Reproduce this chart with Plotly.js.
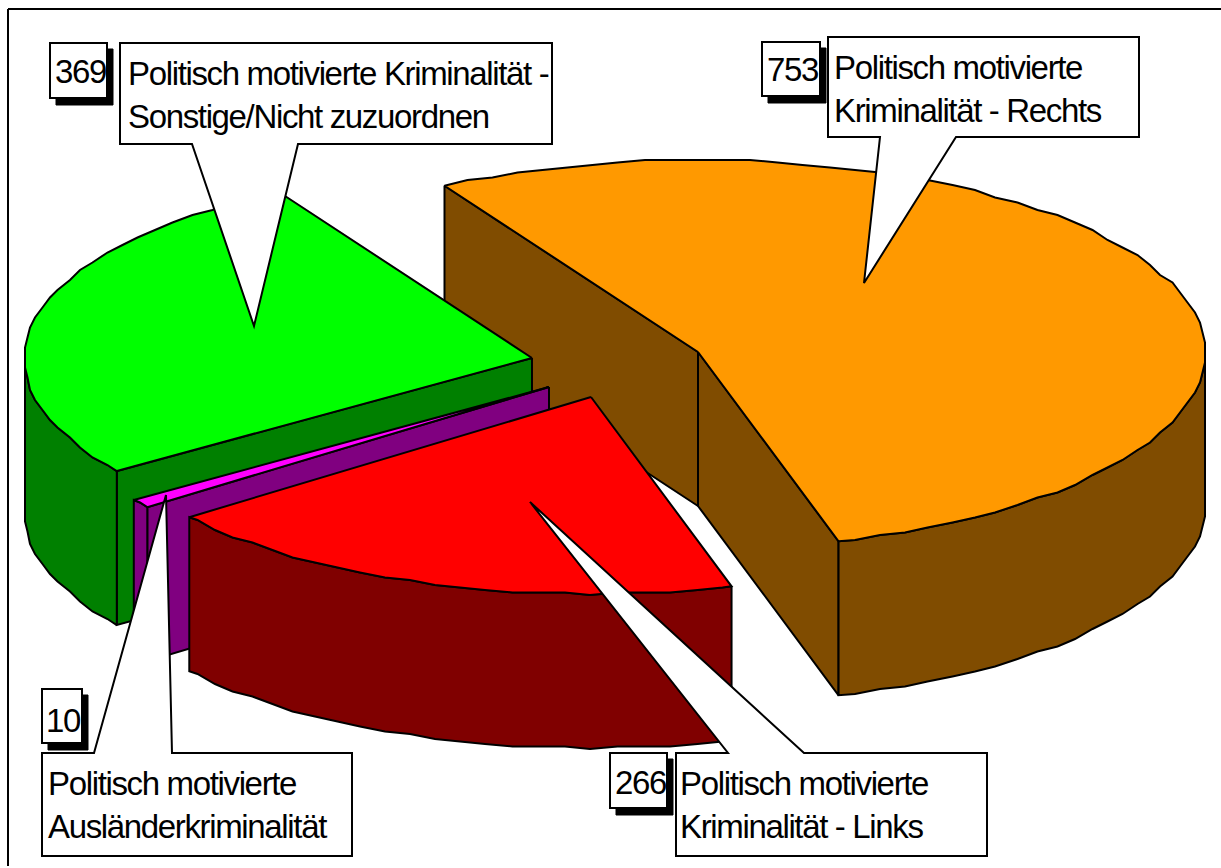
<!DOCTYPE html>
<html>
<head>
<meta charset="utf-8">
<script src="https://cdn.plot.ly/plotly-3.0.1.min.js"></script>
<style>
html,body{margin:0;padding:0;background:#fff;overflow:hidden}
#chart{width:1221px;height:868px}
.annotation-text{letter-spacing:-1.35px}
</style>
</head>
<body>
<div id="chart"></div>
<script>
// Data
const categories = [
  ['Politisch motivierte', 'Kriminalität - Rechts'],
  ['Politisch motivierte', 'Kriminalität - Links'],
  ['Politisch motivierte', 'Ausländerkriminalität'],
  ['Politisch motivierte Kriminalität -', 'Sonstige/Nicht zuzuordnen']
];
const values = [753, 266, 10, 369];
const topColors = ['#FF9900', '#FF0000', '#FF00FF', '#00FF00'];
const sideColors = ['#804C00', '#800000', '#800080', '#008000'];

// Projection of the exploded 3D pie, in page pixels
const startAngle = 120;
const rx = 507, ryBack = 192, ryFront = 197, depth = 154;
const apexX = [698, 591, 549, 532];
const apexY = [352, 397, 387, 358];
const outlineGrid = 2.5;   // the source outline is snapped to a coarse device grid
const angleStep = 3;

// Callout geometry: value box, label box and pointer
const valueBox = [[762,42,820,96],[610,753,667,808],[42,689,82,743],[50,43,107,98]];
const labelBox = [[828,37,1139,137],[676,753,987,856],[42,753,352,856],[120,43,552,144]];
const pointer  = [[880,864,283,956],[728,530,502,804],[94,166,495,172],[192,254,326,298]];
const pointerEdgeY = [137,753,753,144];
const textX  = [833,679,47,127];
const textY  = [[67,110],[783,826],[783,826],[73,116]];
const valueTextY = [69,782,720,71];
const valueTextShift = 1.5;

const total = values.reduce((a,b)=>a+b,0);
const rad = d => d*Math.PI/180;
const px = (i,a) => apexX[i] + rx*Math.cos(rad(a));
const py = (i,a) => { const s=Math.sin(rad(a)); return apexY[i] - s*(s>0?ryBack:ryFront); };
const snap = v => Math.round(v/outlineGrid)*outlineGrid;
// Walks clockwise from a0 to a1; inner samples sit on a fixed angle grid so that
// a wall and the top surface share exactly the same outline points.
function arc(i,a0,a1){
  const out=[[px(i,a0),py(i,a0)]];
  let a=Math.ceil(a1/angleStep)*angleStep;
  const ang=[];
  for(;a<a0;a+=angleStep) if(a>a1) ang.push(a);
  ang.reverse().forEach(b=>out.push([snap(px(i,b)),snap(py(i,b))]));
  out.push([px(i,a1),py(i,a1)]);
  return out;
}
const traces=[];
function poly(pts,color){
  const closed=pts.concat([pts[0]]);
  traces.push({type:'scatter',mode:'lines',x:closed.map(p=>p[0]),y:closed.map(p=>p[1]),
    fill:'toself',fillcolor:color,line:{color:'#000',width:2,simplify:false},hoverinfo:'skip',showlegend:false});
}
function wall(i,a0,a1,color){
  const top=arc(i,a0,a1);
  const bot=top.map(p=>[p[0],p[1]+depth]).reverse();
  poly(top.concat(bot),color);
}
function face(i,a,color){
  const o=[px(i,a),py(i,a)], c=[apexX[i],apexY[i]];
  poly([c,o,[o[0],o[1]+depth],[c[0],c[1]+depth]],color);
}
// angular extents of the slices (clockwise from startAngle)
let cur=startAngle;
const spans=values.map(v=>{const s=[cur,cur-v/total*360];cur=s[1];return s;});

// Paint back to front: orange, green, magenta, red
[0,3,2,1].forEach(i=>{
  const [a0,a1]=spans[i];
  const frontStart=Math.min(a0,0), frontEnd=Math.max(a1,-180);
  const startNormal=Math.sin(rad(a0+90));
  const endNormal=Math.sin(rad(a1-90));
  if(startNormal<0) face(i,a0,sideColors[i]);
  if(endNormal<0) face(i,a1,sideColors[i]);
  if(frontStart>frontEnd) wall(i,frontStart,frontEnd,sideColors[i]);
  poly([[apexX[i],apexY[i]]].concat(arc(i,a0,a1)),topColors[i]);
});

const line={color:'#000',width:2};
const shapes=[
  {type:'line',x0:8,x1:1221,y0:9,y1:9,line},
  {type:'line',x0:8,x1:8,y0:9,y1:866,line}
];
const annotations=[];
const font={family:'"Liberation Sans",Arial,sans-serif',size:33,color:'#000'};
values.forEach((v,i)=>{
  const [bx0,by0,bx1,by1]=valueBox[i];
  shapes.push({type:'rect',x0:bx0+6,y0:by0+6,x1:bx1+6,y1:by1+7,fillcolor:'#000',line:{color:'#000',width:1}});
  shapes.push({type:'rect',x0:bx0,y0:by0,x1:bx1,y1:by1,fillcolor:'#fff',line});
  const [lx0,ly0,lx1,ly1]=labelBox[i];
  const [p0,tx,ty,p1]=pointer[i];
  const ey=pointerEdgeY[i];
  const path = ey===ly1
    ? `M${lx0},${ly0}L${lx1},${ly0}L${lx1},${ly1}L${p1},${ly1}L${tx},${ty}L${p0},${ly1}L${lx0},${ly1}Z`
    : `M${lx0},${ly0}L${p0},${ly0}L${tx},${ty}L${p1},${ly0}L${lx1},${ly0}L${lx1},${ly1}L${lx0},${ly1}Z`;
  shapes.push({type:'path',path,fillcolor:'#fff',line});
  categories[i].forEach((t,j)=>annotations.push({x:textX[i],y:textY[i][j],xanchor:'left',yanchor:'middle',
    text:t,showarrow:false,font,borderpad:0}));
  annotations.push({x:(bx0+bx1)/2+valueTextShift,y:valueTextY[i],xanchor:'center',yanchor:'middle',text:String(v),showarrow:false,font,borderpad:0});
});

Plotly.newPlot('chart',traces,{
  width:1221,height:868,margin:{l:0,r:0,t:0,b:0},
  paper_bgcolor:'#fff',plot_bgcolor:'#fff',showlegend:false,
  xaxis:{range:[0,1221],visible:false,fixedrange:true},
  yaxis:{range:[868,0],visible:false,fixedrange:true},
  shapes,annotations
},{displayModeBar:false,staticPlot:true});
</script>
</body>
</html>
